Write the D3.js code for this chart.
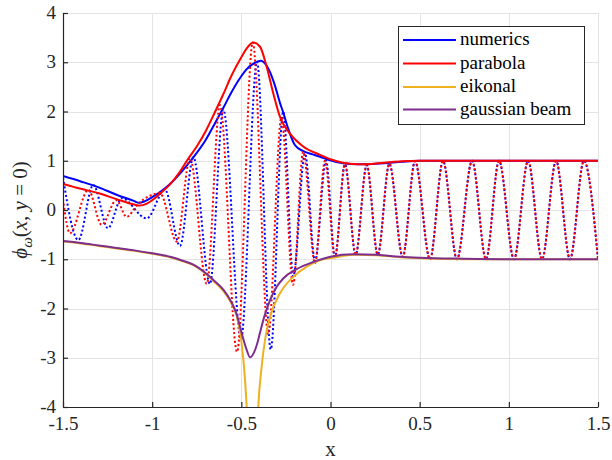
<!DOCTYPE html>
<html>
<head>
<meta charset="utf-8">
<script src="https://cdn.jsdelivr.net/npm/d3@7/dist/d3.min.js"></script>
<style>
  html, body { margin: 0; padding: 0; background: #fff; }
  svg { display: block; }
  svg text { font-family: "Liberation Serif", "DejaVu Serif", serif; }
</style>
</head>
<body>
<svg id="chart" width="612" height="460"></svg>
<script>
// Axis ticks and their printed labels
const xTicks = [-1.5, -1, -0.5, 0, 0.5, 1, 1.5];
const xTickLabels = ["-1.5", "-1", "-0.5", "0", "0.5", "1", "1.5"];
const yTicks = [-4, -3, -2, -1, 0, 1, 2, 3, 4];
const yTickLabels = ["-4", "-3", "-2", "-1", "0", "1", "2", "3", "4"];

// Legend entries
const seriesNames = ["numerics", "parabola", "eikonal", "gaussian beam"];
const seriesColors = ["#0000ff", "#ff0000", "#EDB120", "#7E2F8E"];

// |phi| from the numerical solution
const numAbsX = [-1.5, -1.4, -1.3, -1.2, -1.1, -1.075, -1.04, -1.0, -0.95, -0.9, -0.844, -0.8, -0.769, -0.7, -0.657, -0.6, -0.563, -0.507, -0.47, -0.423, -0.391, -0.36, -0.339, -0.311, -0.283, -0.265, -0.24, -0.2, -0.15, -0.1, -0.059, -0.021, 0.07, 0.15, 0.2, 0.3, 0.4, 0.5, 0.7, 1.0, 1.5];
const numAbsY = [0.69, 0.58, 0.46, 0.31, 0.18, 0.145, 0.18, 0.26, 0.38, 0.53, 0.74, 0.93, 1.07, 1.42, 1.7, 2.08, 2.34, 2.68, 2.86, 2.99, 3.03, 2.94, 2.8, 2.52, 2.17, 1.98, 1.68, 1.32, 1.19, 1.13, 1.08, 1.03, 0.95, 0.93, 0.93, 0.95, 0.98, 1.0, 1.0, 1.0, 1.0];

// Re(phi) from the numerical solution, sampled at its extrema
const numReX = [-1.5, -1.414, -1.33, -1.248, -1.171, -1.031, -0.928, -0.844, -0.769, -0.676, -0.601, -0.502, -0.412, -0.335, -0.265, -0.209, -0.143, -0.087, -0.025, 0.025, 0.081, 0.141, 0.203, 0.265, 0.33, 0.405, 0.474, 0.558, 0.631, 0.709, 0.794, 0.872, 0.945, 1.029, 1.108, 1.186, 1.265, 1.343, 1.421, 1.5];
const numReY = [0.66, -0.61, 0.51, -0.37, 0.24, -0.17, 0.41, -0.73, 1.07, -1.5, 2.04, -2.62, 3.01, -2.83, 2.0, -1.35, 1.15, -1.04, 1.0, -0.96, 0.93, -0.91, 0.91, -0.91, 0.94, -0.95, 0.99, -1.0, 1.0, -1.0, 1.0, -1.0, 1.0, -1.0, 1.0, -1.0, 1.0, -1.0, 1.0, -1.0];

// |phi| from the parabolic approximation
const parAbsX = [-1.5, -1.4, -1.3, -1.2, -1.1, -1.07, -1.03, -1.0, -0.95, -0.9, -0.844, -0.8, -0.75, -0.7, -0.657, -0.6, -0.564, -0.5, -0.47, -0.433, -0.396, -0.358, -0.321, -0.283, -0.227, -0.153, -0.059, 0.0, 0.07, 0.15, 0.2, 0.3, 0.4, 0.5, 0.7, 1.0, 1.5];
const parAbsY = [0.53, 0.43, 0.34, 0.22, 0.11, 0.09, 0.13, 0.2, 0.35, 0.52, 0.78, 1.03, 1.29, 1.6, 1.92, 2.36, 2.66, 3.1, 3.28, 3.4, 3.32, 2.91, 2.37, 1.89, 1.55, 1.29, 1.12, 1.03, 0.96, 0.93, 0.93, 0.96, 0.99, 1.0, 1.0, 1.0, 1.0];

// Re(phi) from the parabolic approximation, sampled at its extrema
const parReX = [-1.5, -1.461, -1.358, -1.283, -1.201, -1.143, -1.085, -0.956, -0.862, -0.788, -0.694, -0.62, -0.524, -0.436, -0.349, -0.275, -0.21, -0.153, -0.087, -0.031, 0.025, 0.081, 0.141, 0.203, 0.265, 0.33, 0.405, 0.474, 0.558, 0.631, 0.709, 0.794, 0.872, 0.945, 1.029, 1.108, 1.186, 1.265, 1.343, 1.421, 1.5];
const parReY = [0.22, -0.47, 0.41, -0.3, 0.2, -0.14, 0.1, 0.34, -0.64, 1.05, -1.5, 2.13, -2.88, 3.4, -2.52, 1.88, -1.52, 1.18, -1.08, 1.0, -0.96, 0.93, -0.91, 0.91, -0.91, 0.94, -0.95, 0.99, -1.0, 1.0, -1.0, 1.0, -1.0, 1.0, -1.0, 1.0, -1.0, 1.0, -1.0, 1.0, -1.0];

// Eikonal solution (diverges at the caustic)
const eikX = [-1.5, -1.4, -1.3, -1.2, -1.1, -1.0, -0.9, -0.844, -0.769, -0.694, -0.657, -0.6, -0.56, -0.526, -0.51, -0.498, -0.479, -0.47, -0.46, -0.437, -0.414, -0.405, -0.386, -0.367, -0.339, -0.283, -0.209, -0.133, -0.059, 0.016, 0.13, 0.26, 0.39, 0.5, 0.75, 1.0, 1.5];
const eikY = [-0.64, -0.68, -0.73, -0.78, -0.83, -0.89, -0.96, -1.02, -1.12, -1.31, -1.44, -1.65, -1.87, -2.15, -2.42, -2.72, -3.46, -4.0, -4.8, -9.0, -4.8, -4.0, -3.18, -2.63, -2.17, -1.69, -1.36, -1.15, -1.02, -0.97, -0.91, -0.92, -0.96, -0.98, -1.0, -1.0, -1.0];

// Gaussian beam solution
const gbX = [-1.5, -1.4, -1.3, -1.2, -1.1, -1.0, -0.9, -0.844, -0.769, -0.694, -0.657, -0.6, -0.56, -0.526, -0.498, -0.47, -0.451, -0.43, -0.41, -0.396, -0.37, -0.339, -0.3, -0.265, -0.19, -0.1, 0.0, 0.13, 0.26, 0.39, 0.5, 0.75, 1.0, 1.5];
const gbY = [-0.63, -0.67, -0.72, -0.77, -0.82, -0.88, -0.95, -1.01, -1.11, -1.3, -1.42, -1.62, -1.84, -2.12, -2.5, -2.84, -2.99, -2.9, -2.7, -2.5, -2.15, -1.83, -1.55, -1.39, -1.2, -1.06, -0.95, -0.9, -0.91, -0.95, -0.97, -0.99, -1.0, -1.0];

const svg = d3.select("#chart");
const W = 612, H = 460;
const plot = { left: 63, right: 598, top: 13, bottom: 407 };
const axisColor = "#262626";
const serif = '"Liberation Serif", "DejaVu Serif", serif';

const x = d3.scaleLinear().domain([-1.5, 1.5]).range([plot.left, plot.right]);
const y = d3.scaleLinear().domain([-4, 4]).range([plot.bottom, plot.top]);

svg.append("rect").attr("width", W).attr("height", H).attr("fill", "#fff");

// Grid
const grid = svg.append("g").attr("stroke", "#e3e3e3").attr("stroke-width", 1);
grid.selectAll("line.gx").data(xTicks).join("line")
  .attr("x1", d => Math.round(x(d)) + 0.5).attr("x2", d => Math.round(x(d)) + 0.5)
  .attr("y1", plot.top).attr("y2", plot.bottom);
grid.selectAll("line.gy").data(yTicks).join("line")
  .attr("x1", plot.left).attr("x2", plot.right)
  .attr("y1", d => Math.round(y(d)) + 0.5).attr("y2", d => Math.round(y(d)) + 0.5);

// Clip to the axes box
svg.append("clipPath").attr("id", "plotClip").append("rect")
  .attr("x", plot.left).attr("y", plot.top)
  .attr("width", plot.right - plot.left).attr("height", plot.bottom - plot.top);

const lines = svg.append("g").attr("clip-path", "url(#plotClip)").attr("fill", "none");
const lineGen = d3.line().x(d => x(d[0])).y(d => y(d[1])).curve(d3.curveMonotoneX);
const zip = (a, b) => a.map((v, i) => [v, b[i]]);

function draw(xs, ys, color, dotted) {
  const p = lines.append("path")
    .attr("d", lineGen(zip(xs, ys)))
    .attr("stroke", color)
    .attr("stroke-width", 2)
    .attr("stroke-linejoin", "round");
  if (dotted) p.attr("stroke-dasharray", "2,2.4");
}

draw(numAbsX, numAbsY, seriesColors[0], false);
draw(numReX, numReY, seriesColors[0], true);
draw(parAbsX, parAbsY, seriesColors[1], false);
draw(parReX, parReY, seriesColors[1], true);
draw(eikX, eikY, seriesColors[2], false);
draw(gbX, gbY, seriesColors[3], false);

// Axes with inward ticks
const xAxis = d3.axisBottom(x).tickValues(xTicks)
  .tickFormat((d, i) => xTickLabels[i])
  .tickSizeInner(-5).tickSizeOuter(0).tickPadding(10);
const yAxis = d3.axisLeft(y).tickValues(yTicks)
  .tickFormat((d, i) => yTickLabels[i])
  .tickSizeInner(-5).tickSizeOuter(0).tickPadding(7);

const gx = svg.append("g").attr("transform", `translate(0,${plot.bottom})`).call(xAxis);
const gy = svg.append("g").attr("transform", `translate(${plot.left},0)`).call(yAxis);
[gx, gy].forEach(g => {
  g.attr("font-family", null).style("font-family", serif);
  g.select(".domain").attr("stroke", axisColor).attr("stroke-width", 1.2);
  g.selectAll(".tick line").attr("stroke", axisColor).attr("stroke-width", 1.2);
  g.selectAll(".tick text").attr("fill", axisColor)
    .style("font-family", serif).style("font-size", "19px");
});
gy.selectAll(".tick text").attr("dy", "0.3em");

// Axis titles
svg.append("text")
  .attr("x", (plot.left + plot.right) / 2).attr("y", 456)
  .attr("text-anchor", "middle")
  .style("font-family", serif).style("font-size", "21px").attr("fill", axisColor)
  .text("x");

const yl = svg.append("text")
  .attr("transform", `translate(27,${(plot.top + plot.bottom) / 2}) rotate(-90)`)
  .attr("text-anchor", "middle")
  .style("font-family", serif).style("font-size", "21px").attr("fill", axisColor);
yl.append("tspan").attr("font-style", "italic").text("ϕ");
yl.append("tspan").attr("font-style", "italic").style("font-size", "15px").attr("dy", 5).text("ω");
yl.append("tspan").attr("dy", -5).text("(");
yl.append("tspan").attr("font-style", "italic").text("x");
yl.append("tspan").text(", ");
yl.append("tspan").attr("font-style", "italic").text("y");
yl.append("tspan").text(" = 0)");

// Legend
const lg = svg.append("g");
lg.append("rect").attr("x", 398.5).attr("y", 26.5).attr("width", 186).attr("height", 98)
  .attr("fill", "#fff").attr("stroke", axisColor).attr("stroke-width", 1);
const rowY = [40, 63.5, 87, 109.5];
seriesNames.forEach((name, i) => {
  lg.append("line").attr("x1", 403).attr("x2", 456)
    .attr("y1", rowY[i]).attr("y2", rowY[i])
    .attr("stroke", seriesColors[i]).attr("stroke-width", 2);
  lg.append("text").attr("x", 460).attr("y", rowY[i] + 5)
    .style("font-family", serif).style("font-size", "19px").attr("fill", "#000")
    .text(name);
});
</script>
</body>
</html>
